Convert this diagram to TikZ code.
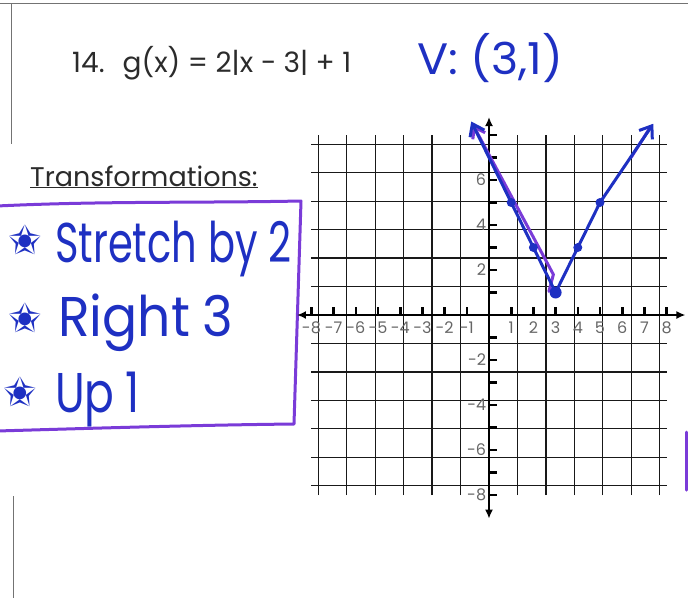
\documentclass[tikz,border=0pt]{standalone}
\usepackage{fontspec}
\usepackage{graphicx}
\setmainfont{Poppins}
\newfontfamily\symfont{DejaVu Sans}
\usetikzlibrary{arrows.meta}
\definecolor{MarkerBlue}{HTML}{1E30C2}
\definecolor{MarkerPurple}{HTML}{7A3BD8}
\definecolor{PrintInk}{HTML}{2B2B2B}
\newcommand{\talltext}[2][1]{\scalebox{#1}[1.4]{#2}}

\begin{document}
\begin{tikzpicture}[x=1pt, y=-1pt,
    printed/.style={text=PrintInk, inner sep=0pt},
    hand/.style={text=MarkerBlue, inner sep=0pt, font=\fontsize{40}{40}\selectfont},
    starmark/.style={text=MarkerBlue, inner sep=0pt, font=\symfont\fontsize{40}{40}\selectfont},
    pageline/.style={draw=black!55, line width=1pt},
    boxline/.style={draw=MarkerPurple, line width=3pt, line join=round, line cap=round},
    gridline/.style={draw=black!90, line width=1.3pt},
    axisline/.style={draw=black, line width=2.6pt},
    tickmark/.style={draw=black, line width=2.6pt},
    ticklabel/.style={text=black!60, inner sep=0pt, font=\fontsize{16}{16}\selectfont},
    blueline/.style={draw=MarkerBlue, line width=3pt, line join=round, line cap=round},
    purpleline/.style={draw=MarkerPurple, line width=3pt, line join=round, line cap=round}]
  \useasboundingbox (0,0) rectangle (688,598);

  % page edges
  \draw[pageline] (0,3) -- (688,3);
  \draw[pageline] (11,3) -- (11,144);
  \draw[pageline] (13,496) -- (13,598);

  % printed text
  \node[printed, anchor=base west, font=\fontsize{28}{28}\selectfont] (title) at (72,72) {14.\hspace{18pt}g(x) = 2|x − 3| + 1};
  \node[hand] (vertex) at (490,58) {\scalebox{1.15}[1.1]{V: (3,1)}};
  \node[printed, anchor=base west, font=\fontsize{27}{27}\selectfont] (transf) at (30,186) {\underline{Transformations:}};

  % purple box with the list
  \draw[boxline] (-3,206) .. controls (100,201) and (200,203) .. (301,201) -- (294,424) .. controls (200,425) and (100,428) .. (-3,431);
  \draw[boxline] (686,432) -- (686,490);
  \node[starmark] (star1) at (25,240) {✬};
  \node[hand, anchor=base west] (stretch) at (55,262) {\talltext{Stretch by 2}};
  \node[starmark] (star2) at (25,318) {✬};
  \node[hand, anchor=base west] (right) at (58,336) {\talltext[1.3]{Right\hspace{10pt}3}};
  \node[starmark] (star3) at (20,392) {✬};
  \node[hand, anchor=base west] (up) at (55,412) {\talltext[1.1]{Up\hspace{10pt}1}};

  % coordinate plane
  \begin{scope}[shift={(489pt,-315pt)}, x=22.2pt, y=22.5pt]
    \draw[gridline] (-8,-8) grid (8,8);
    \draw[axisline, {Latex[length=9pt,width=8pt]}-{Latex[length=9pt,width=8pt]}] (-8.65,0) -- (8.85,0);
    \draw[axisline, {Latex[length=9pt,width=8pt]}-{Latex[length=9pt,width=8pt]}] (0,-9.05) -- (0,8.8);
    \foreach \i in {-8,...,-1,1,2,...,8} {
      \draw[tickmark] (\i,0) -- (\i,0.35);
      \draw[tickmark] (0,\i) -- (0.35,\i);
      \node[ticklabel] at (\i,-0.55) {\i};
    }
    \foreach \j in {6,4,2,-2,-4,-6,-8}
      \node[ticklabel, anchor=east] at (-0.12,\j) {\j};

    % graph of g
    \draw[purpleline, {Straight Barb[length=10pt,width=14pt]}-] (-0.72,8.45) -- (2.9,1.8) -- (2.7,1.05);
    \draw[purpleline] (6.4,7.0) -- (7.3,8.4);
    \draw[blueline, {Straight Barb[length=11pt,width=16pt]}-{Straight Barb[length=11pt,width=16pt]}]
      (-0.8,8.6) -- (0,7) -- (1,5) -- (2,3) -- (3,1) -- (4,3) -- (5,5) -- (7.4,8.5);
    \foreach \p in {(1,5),(2,3),(4,3),(5,5)}
      \fill[MarkerBlue] \p circle (4.5pt);
    \fill[MarkerBlue] (3,1) circle (6pt);
  \end{scope}
\end{tikzpicture}
\end{document}
